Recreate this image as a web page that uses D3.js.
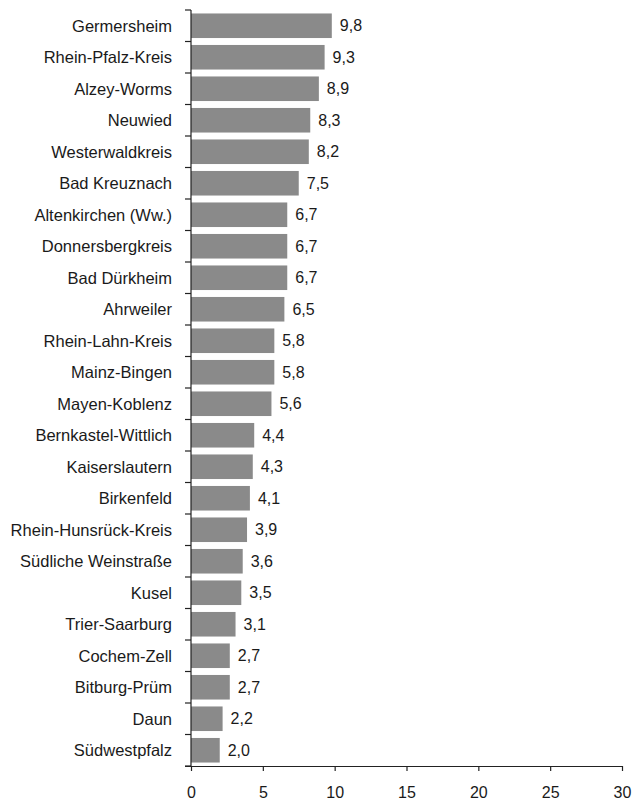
<!DOCTYPE html>
<html><head><meta charset="utf-8">
<script src="https://cdn.jsdelivr.net/npm/d3@7"></script>
<style>body{margin:0;background:#fff}svg{display:block}text{font-family:"Liberation Sans",Arial,Helvetica,sans-serif}</style>
</head><body><div id="chart"></div>
<script>
const categories = ["Germersheim","Rhein-Pfalz-Kreis","Alzey-Worms","Neuwied","Westerwaldkreis","Bad Kreuznach","Altenkirchen (Ww.)","Donnersbergkreis","Bad Dürkheim","Ahrweiler","Rhein-Lahn-Kreis","Mainz-Bingen","Mayen-Koblenz","Bernkastel-Wittlich","Kaiserslautern","Birkenfeld","Rhein-Hunsrück-Kreis","Südliche Weinstraße","Kusel","Trier-Saarburg","Cochem-Zell","Bitburg-Prüm","Daun","Südwestpfalz"];
const values = [9.8,9.3,8.9,8.3,8.2,7.5,6.7,6.7,6.7,6.5,5.8,5.8,5.6,4.4,4.3,4.1,3.9,3.6,3.5,3.1,2.7,2.7,2.2,2.0];
const xTicks = [0,5,10,15,20,25,30];

const W = 632, H = 802;
const svg = d3.select("#chart").append("svg").attr("width", W).attr("height", H);
const x = d3.scaleLinear().domain([0,30]).range([191,622]);
const y = d3.scaleBand().domain(categories).range([10,766]).paddingInner(0.22).paddingOuter(0.11);
const fmt = v => d3.format(".1f")(v).replace(".", ",");

svg.append("g").selectAll("rect").data(values).join("rect")
  .attr("x", x(0)).attr("y", (d,i)=>y(categories[i]))
  .attr("width", d=>x(d)-x(0)).attr("height", y.bandwidth())
  .attr("fill", "#8a8a8a");

svg.append("g").selectAll("text").data(values).join("text")
  .attr("x", d=>x(d)+8).attr("y", (d,i)=>y(categories[i])+y.bandwidth()/2)
  .attr("dy","0.35em").attr("font-size",16).attr("fill","#1a1a1a").text(fmt);

// y axis: line with ticks at band boundaries
const step = (766-10)/categories.length;
const bounds = d3.range(categories.length+1).map(i=>10+i*step);
const ya = svg.append("g").attr("stroke","#222").attr("stroke-width",1.2);
ya.append("line").attr("x1",x(0)).attr("x2",x(0)).attr("y1",10).attr("y2",766);
ya.selectAll("line.t").data(bounds).join("line").attr("class","t")
  .attr("x1",x(0)-6).attr("x2",x(0)).attr("y1",d=>d).attr("y2",d=>d);

svg.append("g").selectAll("text").data(categories).join("text")
  .attr("x",172).attr("y",d=>y(d)+y.bandwidth()/2).attr("dy","0.35em")
  .attr("text-anchor","end").attr("font-size",16.5).attr("fill","#1a1a1a").text(d=>d);

// x axis
const xa = svg.append("g").attr("transform","translate(0,766)")
  .call(d3.axisBottom(x).tickValues(xTicks).tickSize(5).tickSizeOuter(0).tickPadding(16).tickFormat(d=>d));
xa.select(".domain").attr("stroke","#222").attr("stroke-width",1.2).attr("d","M185,0.5H622");
xa.selectAll(".tick line").attr("stroke","#222").attr("stroke-width",1.2);
xa.selectAll(".tick text").attr("font-size",16).attr("fill","#1a1a1a").attr("font-family",'"Liberation Sans",Arial,sans-serif');
</script></body></html>
